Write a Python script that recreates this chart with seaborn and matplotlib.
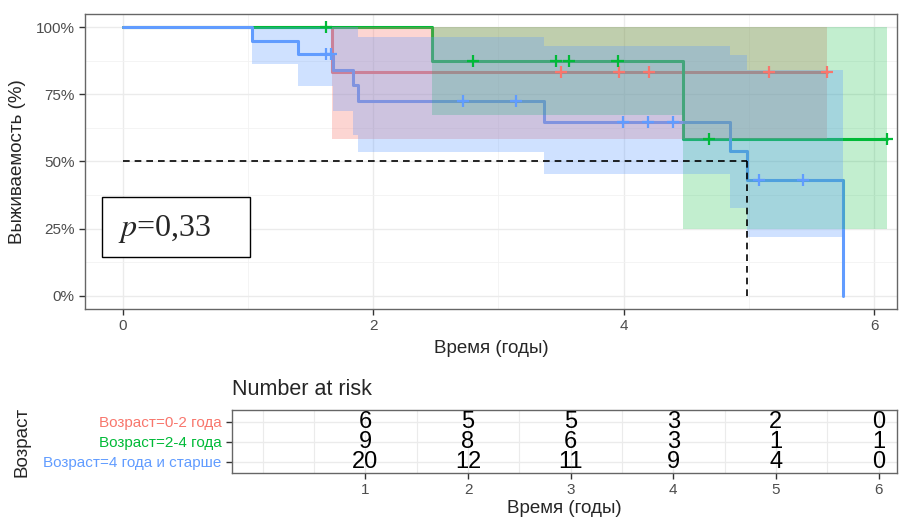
import numpy as np
import pandas as pd
import seaborn as sns
import matplotlib.pyplot as plt
from matplotlib.patches import Rectangle
from matplotlib.ticker import FixedLocator

# Группы и цвета
groups = ["Возраст=0-2 года", "Возраст=2-4 года", "Возраст=4 года и старше"]
colors = ["#F8766D", "#00BA38", "#619CFF"]
fill_alpha = [0.3, 0.24, 0.3]

# Кривые Каплана-Мейера
red_t = [0, 1.67, 5.62]
red_s = [1.0, 0.833, 0.833]
red_lo = [1.0, 0.585, 0.585]
red_hi = [1.0, 1.0, 1.0]
red_cens = [3.50, 3.96, 4.20, 5.16, 5.62]

green_t = [0, 2.47, 4.47, 6.10]
green_s = [1.0, 0.875, 0.583, 0.583]
green_lo = [1.0, 0.675, 0.25, 0.25]
green_hi = [1.0, 1.0, 1.0, 1.0]
green_cens = [1.62, 2.80, 3.46, 3.56, 3.95, 4.68, 6.10]

blue_t = [0, 1.03, 1.40, 1.68, 1.84, 1.88, 3.36, 4.85, 4.98, 5.75]
blue_s = [1.0, 0.95, 0.90, 0.843, 0.787, 0.724, 0.646, 0.538, 0.432, 0.0]
blue_lo = [1.0, 0.862, 0.78, 0.687, 0.60, 0.537, 0.455, 0.328, 0.22, 0.22]
blue_hi = [1.0, 1.0, 1.0, 1.0, 1.0, 0.965, 0.929, 0.896, 0.843, 0.843]
blue_cens = [1.62, 1.66, 2.72, 3.14, 3.99, 4.19, 4.39, 5.08, 5.43]

# Число под риском
risk_times = [1, 2, 3, 4, 5, 6]
risk_red = [6, 5, 5, 3, 2, 0]
risk_green = [9, 8, 6, 3, 1, 1]
risk_blue = [20, 12, 11, 9, 4, 0]

p_value = "0,33"

curves = [
    (groups[0], red_t, red_s, red_lo, red_hi, red_cens),
    (groups[1], green_t, green_s, green_lo, green_hi, green_cens),
    (groups[2], blue_t, blue_s, blue_lo, blue_hi, blue_cens),
]
risks = [risk_red, risk_green, risk_blue]

# Таблицы для seaborn
lines = []
cens = []
for g, t, s, lo, hi, c in curves:
    lines.append(pd.DataFrame({"time": t, "surv": s, "group": g}))
    idx = np.searchsorted(t, c, side="right") - 1
    cens.append(pd.DataFrame({"time": c, "surv": np.array(s)[idx], "group": g}))
lines = pd.concat(lines, ignore_index=True)
cens = pd.concat(cens, ignore_index=True)

sns.set_style("white")
plt.rcParams["font.family"] = ["Liberation Sans", "DejaVu Sans"]
plt.rcParams["mathtext.fontset"] = "stix"

fig = plt.figure(figsize=(9, 5.2), dpi=100)
ax = fig.add_axes([0.0944, 0.4058, 0.9022, 0.5673])
axt = fig.add_axes([0.2578, 0.0904, 0.7389, 0.1212])

pal = dict(zip(groups, colors))

# линии
sns.lineplot(data=lines, x="time", y="surv", hue="group", palette=pal,
             hue_order=groups, estimator=None, sort=False,
             drawstyle="steps-post", linewidth=2.2, legend=False, ax=ax, zorder=2)

# доверительные интервалы
for (g, t, s, lo, hi, c), col, a in zip(curves, colors, fill_alpha):
    ax.fill_between(t, lo, hi, step="post", color=col, alpha=a, linewidth=0, zorder=3)

# цензурированные
sns.scatterplot(data=cens, x="time", y="surv", hue="group", palette=pal,
                hue_order=groups, marker="+", s=75, linewidth=1.6,
                legend=False, ax=ax, zorder=4)

# медиана
b_t = np.array(blue_t)
med = b_t[np.argmax(np.array(blue_s) <= 0.5)]
ax.plot([0, med], [0.5, 0.5], color="black", ls=(0, (4, 3)), lw=1.2, zorder=5)
ax.plot([med, med], [0.5, 0], color="black", ls=(0, (4, 3)), lw=1.2, zorder=5)

ax.set_xlim(-0.3, 6.18)
ax.set_ylim(-0.05, 1.05)
ax.xaxis.set_major_locator(FixedLocator([0, 2, 4, 6]))
ax.xaxis.set_minor_locator(FixedLocator([1, 3, 5]))
ax.yaxis.set_major_locator(FixedLocator([0, 0.25, 0.5, 0.75, 1.0]))
ax.yaxis.set_minor_locator(FixedLocator([0.125, 0.375, 0.625, 0.875]))
ax.set_yticklabels(["0%", "25%", "50%", "75%", "100%"])
ax.grid(which="major", color="#EBEBEB", lw=1.0, zorder=0)
ax.grid(which="minor", color="#F2F2F2", lw=0.6, zorder=0)
ax.set_axisbelow(True)
ax.tick_params(which="major", length=4, width=1, color="#333333",
               labelcolor="#4D4D4D", labelsize=11, left=True, bottom=True)
ax.tick_params(which="minor", length=0)
for sp in ax.spines.values():
    sp.set_color("#666666")
    sp.set_linewidth(1.0)
ax.set_xlabel("Время (годы)", fontsize=13.5, labelpad=5)
ax.set_ylabel("Выживаемость (%)", fontsize=13.5, labelpad=7)

# p-значение
ax.add_patch(Rectangle((0.021, 0.176), 0.182, 0.204, transform=ax.transAxes,
                       facecolor="white", edgecolor="black", lw=1.0, zorder=6))
ax.text(0.041, 0.27, "$p$=" + p_value, transform=ax.transAxes, va="center",
        ha="left", fontsize=23, family="Liberation Serif", zorder=7)

# таблица риска
ypos = [3, 2, 1]
for r, y in zip(risks, ypos):
    for t, n in zip(risk_times, r):
        axt.text(t, y, str(n), ha="center", va="center", fontsize=17, color="black")
axt.set_xlim(-0.3, 6.18)
axt.set_ylim(0.45, 3.6)
axt.xaxis.set_major_locator(FixedLocator(risk_times))
axt.xaxis.set_minor_locator(FixedLocator([0, 0.5, 1.5, 2.5, 3.5, 4.5, 5.5]))
axt.yaxis.set_major_locator(FixedLocator(ypos))
axt.set_yticklabels(groups)
axt.grid(which="major", color="#EBEBEB", lw=1.0)
axt.grid(which="minor", axis="x", color="#EBEBEB", lw=0.8)
axt.set_axisbelow(True)
axt.tick_params(which="major", length=4, width=1, color="#333333",
                labelcolor="#4D4D4D", labelsize=11, left=True, bottom=True)
for lab, col in zip(axt.get_yticklabels(), colors):
    lab.set_color(col)
axt.tick_params(which="minor", length=0)
for sp in axt.spines.values():
    sp.set_color("#666666")
    sp.set_linewidth(1.0)
axt.set_title("Number at risk", loc="left", fontsize=15.5, pad=11)
axt.set_xlabel("Время (годы)", fontsize=13.5, labelpad=2)
axt.set_ylabel("Возраст", fontsize=13.5, labelpad=9)

fig.savefig("out.png", dpi=100)
